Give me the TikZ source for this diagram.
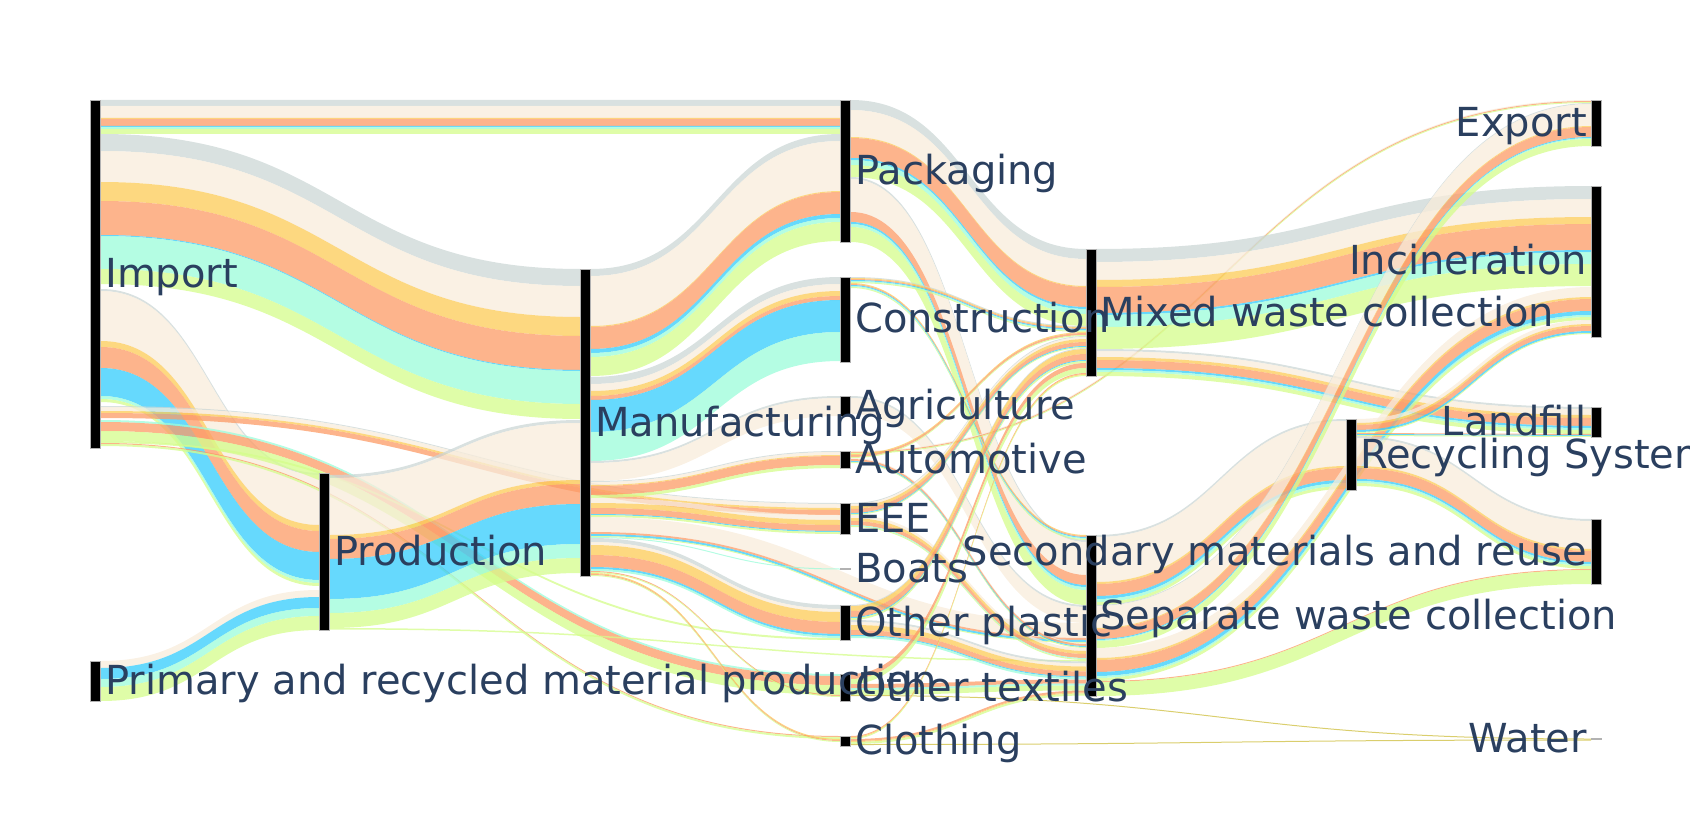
\documentclass[tikz,border=0pt]{standalone}
\usepackage{fontspec}
\setmainfont{DejaVu Sans}

\definecolor{cgray}{RGB}{204,215,214}
\definecolor{ccream}{RGB}{248,236,219}
\definecolor{cyellow}{RGB}{252,203,86}
\definecolor{csalmon}{RGB}{252,155,102}
\definecolor{ccyan}{RGB}{51,204,252}
\definecolor{cmint}{RGB}{155,252,218}
\definecolor{clime}{RGB}{212,253,139}
\definecolor{colive}{RGB}{205,190,60}
\definecolor{lblblue}{RGB}{42,63,95}

\tikzset{
  fgray/.style={fill=cgray, fill opacity=.75},
  fcream/.style={fill=ccream, fill opacity=.75},
  fyellow/.style={fill=cyellow, fill opacity=.75},
  fsalmon/.style={fill=csalmon, fill opacity=.75},
  fcyan/.style={fill=ccyan, fill opacity=.75},
  fmint/.style={fill=cmint, fill opacity=.75},
  flime/.style={fill=clime, fill opacity=.75},
  folive/.style={fill=colive, fill opacity=.75},
  nbar/.style={fill=black, draw=gray!60, line width=.6pt, minimum width=10pt, inner sep=0pt, outer sep=0pt},
  lbl/.style={text=lblblue, font=\fontsize{40}{42}\selectfont, inner sep=0pt}
}

% one link: x1, y1, x2, y2, {style/width,...} stacked from the top
\newcommand\flow[5]{%
  \pgfmathsetmacro\flowtmp{#2}\global\let\flowya\flowtmp
  \pgfmathsetmacro\flowtmp{#4}\global\let\flowyb\flowtmp
  \pgfmathsetmacro\flowxm{(#1+#3)/2}
  \foreach \c/\w in {#5}{
    \pgfmathsetmacro\flowyc{\flowya+\w}
    \pgfmathsetmacro\flowyd{\flowyb+\w}
    \fill[\c] (#1,\flowya) .. controls (\flowxm,\flowya) and (\flowxm,\flowyb) .. (#3,\flowyb)
      -- (#3,\flowyd) .. controls (\flowxm,\flowyd) and (\flowxm,\flowyc) .. (#1,\flowyc) -- cycle;
    \global\let\flowya\flowyc \global\let\flowyb\flowyd
  }%
}

\begin{document}
\begin{tikzpicture}[x=1pt, y=-1pt]
  \useasboundingbox (0,0) rectangle (1690,824);

  % import
  \flow{101}{100}{840}{100}{fgray/6,fcream/12,fyellow/1,fsalmon/7,fcyan/1,fmint/2,flime/5}
  \flow{101}{134}{580}{269}{fgray/17,fcream/31,fyellow/19,fsalmon/34,fcyan/1,fmint/33,flime/15}
  \flow{101}{289}{319}{473}{fgray/2,fcream/50,fyellow/6,fsalmon/21,fcyan/28,fmint/3,flime/3}
  \flow{101}{406}{840}{503}{fgray/1,fcream/4,fyellow/2,fsalmon/5}
  \flow{101}{420}{840}{674}{fmint/2,fsalmon/9,flime/10}
  \flow{101}{441}{840}{638}{flime/2}
  \flow{101}{443}{840}{736}{fsalmon/1,flime/2}
  % primary and production
  \flow{101}{661}{319}{590}{fcream/7,fcyan/11,fmint/8,flime/14}
  \flow{330}{475}{580}{420}{fgray/3,fcream/57,fyellow/4,fsalmon/20,fcyan/40,fmint/14,flime/15}
  \flow{330}{628}{1086}{660}{flime/1.5}
  % manufacturing
  \flow{591}{269}{840}{134}{fgray/7,fcream/50,fyellow/1,fsalmon/22,fcyan/4,fmint/4,flime/19}
  \flow{591}{377}{840}{277}{fgray/7,fcream/7,fyellow/5,fsalmon/4,fcyan/32,fmint/29}
  \flow{591}{461}{840}{396}{fgray/2,fcream/18}
  \flow{591}{481}{840}{451}{fgray/1,fcream/3,fyellow/1,fsalmon/9,flime/3}
  \flow{591}{498}{840}{515}{fcream/5,fyellow/5,fsalmon/6,fcyan/1,flime/2}
  \flow{591}{517}{1086}{623}{fcream/15,fsalmon/2,fcyan/2,flime/1}
  \flow{591}{537}{840}{568.5}{fmint/1}
  \flow{591}{538}{840}{605}{fgray/4,fcream/3,fyellow/10,fsalmon/12,fcyan/2,fmint/2}
  \flow{591}{571}{840}{695}{fsalmon/1,flime/1}
  \flow{591}{573}{840}{739}{fyellow/1,fsalmon/1,flime/1}
  % sectors
  \flow{851}{100}{1086}{249}{fgray/10,fcream/27,fyellow/1,fsalmon/20,fcyan/2,fmint/5,flime/12}
  \flow{851}{177}{1086}{540}{fgray/2,fcream/33,fsalmon/10,fcyan/2,fmint/3,flime/15}
  \flow{851}{277}{1086}{326}{fgray/1,fyellow/1,fsalmon/1,fcyan/1,fmint/1,flime/1}
  \flow{851}{283}{1086}{535}{fyellow/1,fsalmon/1,fcyan/1,fmint/1,flime/1}
  \flow{851}{396}{1086}{605}{fgray/2,fcream/16}
  \flow{851}{451}{1591}{100}{fcream/1,fsalmon/1,flime/1}
  \flow{851}{454}{1086}{332}{fyellow/1,fsalmon/2,flime/1}
  \flow{851}{458}{1086}{643}{fcream/1,fsalmon/2,fcyan/1,flime/1}
  \flow{851}{503}{1086}{336}{fgray/1,fcream/2,fyellow/3,fsalmon/4,fcyan/1,flime/1}
  \flow{851}{515}{1086}{648}{fcream/3,fyellow/3,fsalmon/4,fmint/1,flime/1}
  \flow{851}{605}{1086}{348}{fgray/1,fyellow/5,fsalmon/6,fcyan/1,flime/2}
  \flow{851}{620}{1086}{661.5}{fgray/2,fcream/3,fyellow/5,fsalmon/5,fcyan/1,fmint/2}
  \flow{851}{674}{1086}{363}{fsalmon/5,flime/5}
  \flow{851}{684}{1086}{679.5}{fsalmon/4,fmint/2,flime/5}
  \flow{851}{695}{1591}{738.5}{folive/1}
  \flow{851}{736}{1086}{373}{fsalmon/1,fyellow/1,flime/1}
  \flow{851}{739}{1086}{690.5}{fsalmon/2,fyellow/1,flime/2}
  \flow{851}{744}{1591}{739.5}{folive/1}
  % mixed and separate collection
  \flow{1096}{249}{1591}{186}{fgray/13,fcream/18,fyellow/7,fsalmon/26,fcyan/2,fmint/12,flime/22}
  \flow{1096}{349}{1591}{407}{fgray/2,fcream/6,fyellow/3,fsalmon/8,fcyan/2,fmint/2,flime/4}
  \flow{1096}{535}{1346}{419}{fgray/2,fcream/45,fyellow/2,fsalmon/12,fcyan/3,fmint/3,flime/3}
  \flow{1096}{605}{1591}{103}{fgray/1,fcream/22,fyellow/1,fsalmon/10,fcyan/1,fmint/1,flime/7}
  \flow{1096}{648}{1591}{287}{fcream/10,fyellow/2,fsalmon/12,fcyan/4,fmint/2,flime/3}
  \flow{1096}{681}{1591}{569}{fsalmon/1,flime/14}
  % recycling
  \flow{1356}{419}{1591}{320}{fcream/4,fyellow/2,fsalmon/5,fcyan/2,flime/1}
  \flow{1356}{433}{1591}{434}{fsalmon/1,fcyan/1,flime/1}
  \flow{1356}{436}{1591}{519}{fgray/2,fcream/28,fyellow/2,fsalmon/11,fcyan/2,fmint/2,flime/3}

  % node bars
  \node[nbar, minimum height=348pt] (imp) at (95.5,274) {};
  \node[nbar, minimum height=40pt] (prim) at (95.5,681) {};
  \node[nbar, minimum height=157pt] (prod) at (324.5,551.5) {};
  \node[nbar, minimum height=307pt] (manu) at (585.5,422.5) {};
  \node[nbar, minimum height=142pt] (pack) at (845.5,171) {};
  \node[nbar, minimum height=85pt] (cons) at (845.5,319.5) {};
  \node[nbar, minimum height=20pt] (agri) at (845.5,406) {};
  \node[nbar, minimum height=17pt] (auto) at (845.5,459.5) {};
  \node[nbar, minimum height=31pt] (eee) at (845.5,518.5) {};
  \node[nbar, minimum height=1pt] (boat) at (845.5,569) {};
  \node[nbar, minimum height=35pt] (oplast) at (845.5,622.5) {};
  \node[nbar, minimum height=27pt] (otext) at (845.5,687.5) {};
  \node[nbar, minimum height=10pt] (cloth) at (845.5,741) {};
  \node[nbar, minimum height=127pt] (mixed) at (1091,312.5) {};
  \node[nbar, minimum height=161pt] (sep) at (1091,615.5) {};
  \node[nbar, minimum height=71pt] (recyc) at (1351,454.5) {};
  \node[nbar, minimum height=46pt] (expo) at (1596,123) {};
  \node[nbar, minimum height=151pt] (incin) at (1596,261.5) {};
  \node[nbar, minimum height=30pt] (landf) at (1596,422) {};
  \node[nbar, minimum height=65pt] (secon) at (1596,551.5) {};
  \node[nbar, minimum height=1pt] (water) at (1596,739) {};

  % labels
  \node[lbl, anchor=base west] (implbl) at (105,287) {Import};
  \node[lbl, anchor=base west] (primlbl) at (105,694) {Primary and recycled material production};
  \node[lbl, anchor=base west] (prodlbl) at (334,565) {Production};
  \node[lbl, anchor=base west] (manulbl) at (595,436) {Manufacturing};
  \node[lbl, anchor=base west] (packlbl) at (855,184) {Packaging};
  \node[lbl, anchor=base west] (conslbl) at (855,332.5) {Construction};
  \node[lbl, anchor=base west] (agrilbl) at (855,419.5) {Agriculture};
  \node[lbl, anchor=base west] (autolbl) at (855,473) {Automotive};
  \node[lbl, anchor=base west] (eeelbl) at (855,532) {EEE};
  \node[lbl, anchor=base west] (boatlbl) at (855,582.5) {Boats};
  \node[lbl, anchor=base west] (oplastlbl) at (855,636) {Other plastic};
  \node[lbl, anchor=base west] (otextlbl) at (855,701) {Other textiles};
  \node[lbl, anchor=base west] (clothlbl) at (855,754.5) {Clothing};
  \node[lbl, anchor=base west] (mixedlbl) at (1100,326) {Mixed waste collection};
  \node[lbl, anchor=base west] (seplbl) at (1100,629) {Separate waste collection};
  \node[lbl, anchor=base west] (recyclbl) at (1360,468) {Recycling System};
  \node[lbl, anchor=base east] (expolbl) at (1587,136.5) {Export};
  \node[lbl, anchor=base east] (incinlbl) at (1587,274.5) {Incineration};
  \node[lbl, anchor=base east] (landflbl) at (1587,435.5) {Landfill};
  \node[lbl, anchor=base east] (seconlbl) at (1587,565) {Secondary materials and reuse};
  \node[lbl, anchor=base east] (waterlbl) at (1587,752.5) {Water};
\end{tikzpicture}
\end{document}
